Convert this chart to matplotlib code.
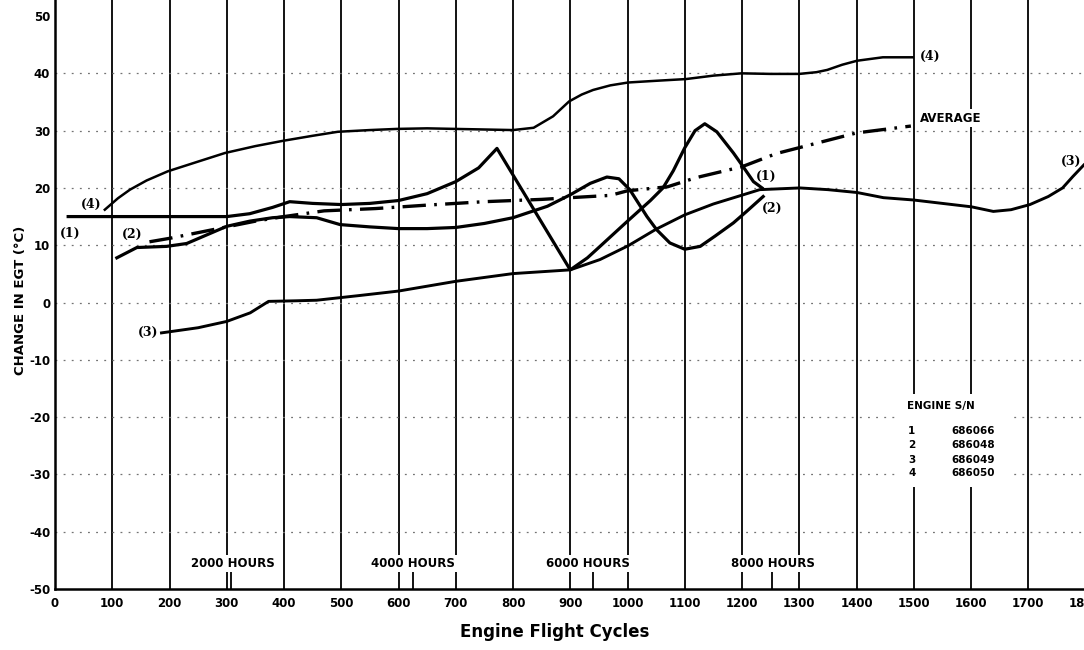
import matplotlib
matplotlib.use("Agg")
import matplotlib.pyplot as plt
from matplotlib.patches import Rectangle

plt.rcParams['font.family'] = ['DejaVu Sans']

# ---------------- data ----------------
x_ticks = list(range(0, 1801, 100))
x_tick_labels = [str(v) for v in x_ticks]
y_ticks = list(range(-50, 51, 10))
y_tick_labels = [str(v) for v in y_ticks]

eng1_x = [23, 100, 200, 300, 340, 380, 410, 450, 500, 550, 600, 650, 700, 740, 772,
          900, 930, 952, 1000, 1040, 1062, 1080, 1100, 1118, 1135, 1156, 1185, 1202, 1220, 1235]
eng1_y = [15, 15, 15, 15, 15.5, 16.6, 17.6, 17.3, 17.1, 17.3, 17.8, 19.0, 21.1, 23.5, 26.9,
          5.7, 7.8, 9.8, 14.2, 17.8, 20.0, 23.0, 27.0, 30.0, 31.2, 29.8, 26.1, 23.7, 21.1, 20.0]

eng2_x = [108, 143, 195, 230, 265, 300, 340, 380, 410, 457, 498, 550, 600, 650, 700, 750, 800,
          860, 900, 935, 964, 985, 1004, 1034, 1051, 1074, 1100, 1127, 1153, 1185, 1208, 1237]
eng2_y = [7.8, 9.6, 9.8, 10.3, 11.8, 13.3, 14.2, 14.8, 15.0, 14.8, 13.6, 13.2, 12.9, 12.9, 13.1,
          13.8, 14.8, 16.8, 18.8, 20.8, 21.9, 21.6, 19.7, 15.0, 12.7, 10.4, 9.3, 9.8, 11.6, 13.9, 15.9, 18.5]

eng3_x = [186, 250, 300, 341, 373, 420, 457, 530, 600, 700, 800, 900, 952, 1001, 1050, 1100,
          1150, 1202, 1231, 1301, 1350, 1401, 1447, 1499, 1550, 1601, 1639, 1670, 1703, 1735,
          1760, 1778, 1797]
eng3_y = [-5.3, -4.4, -3.3, -1.8, 0.2, 0.3, 0.4, 1.2, 2.0, 3.7, 5.05, 5.7, 7.5, 9.9, 12.8, 15.3,
          17.2, 18.8, 19.7, 20.0, 19.7, 19.2, 18.3, 17.9, 17.3, 16.7, 15.9, 16.2, 17.1, 18.5,
          20.0, 22.0, 24.0]

eng4_x = [87, 110, 131, 160, 197, 250, 297, 350, 397, 450, 494, 550, 597, 650, 699, 750, 800,
          836, 870, 898, 920, 940, 970, 1001, 1050, 1102, 1150, 1199, 1250, 1300, 1330, 1349,
          1375, 1401, 1446, 1498]
eng4_y = [16.2, 18.2, 19.7, 21.3, 22.9, 24.6, 26.1, 27.3, 28.2, 29.1, 29.8, 30.1, 30.3, 30.4,
          30.3, 30.2, 30.1, 30.5, 32.5, 35.1, 36.3, 37.1, 37.9, 38.4, 38.7, 39.0, 39.6, 40.0,
          39.9, 39.9, 40.2, 40.6, 41.5, 42.2, 42.8, 42.8]

avg_x = [165, 200, 250, 300, 350, 400, 470, 560, 650, 750, 850, 900, 970, 1000, 1070, 1120,
         1200, 1260, 1330, 1400, 1495]
avg_y = [10.6, 11.2, 12.2, 13.2, 14.2, 15.0, 16.0, 16.4, 17.0, 17.6, 18.0, 18.3, 18.7, 19.5,
         20.2, 21.8, 23.7, 26.0, 27.8, 29.6, 30.8]

hours_labels = ["2000 HOURS", "4000 HOURS", "6000 HOURS", "8000 HOURS"]
hours_cycles = [307, 625, 940, 1252]
hours_text_x = [311, 625, 931, 1254]

legend_title = "ENGINE S/N"
legend_ids = ["1", "2", "3", "4"]
legend_serials = ["686066", "686048", "686049", "686050"]

# ---------------- figure ----------------
fig = plt.figure(figsize=(10.84, 6.5), dpi=100)
ax = fig.add_axes([55 / 1084, 61 / 650, (1085.5 - 55) / 1084, 589 / 650])
ax.set_xlim(0, 1800)
ax.set_ylim(-50, 52.8)

for s in ['top', 'right']:
    ax.spines[s].set_visible(False)
for s in ['left', 'bottom']:
    ax.spines[s].set_linewidth(1.8)
    ax.spines[s].set_color('black')

# grid
for v in x_ticks[1:]:
    ax.axvline(v, color='black', lw=1.3, zorder=1)
for v in range(-40, 50, 10):
    ax.axhline(v, color='0.45', lw=0.9, ls=(0, (1.5, 5)), zorder=1)

ax.set_xticks(x_ticks)
ax.set_xticklabels(x_tick_labels, fontsize=8.5, fontweight='bold')
ax.set_yticks(y_ticks)
ax.set_yticklabels(y_tick_labels, fontsize=8.5, fontweight='bold')
ax.tick_params(axis='x', length=0, pad=6)
ax.tick_params(axis='y', length=0, pad=3.5)

# curves
ax.plot(eng1_x, eng1_y, color='black', lw=2.3, zorder=3, solid_joinstyle='round')
ax.plot(eng2_x, eng2_y, color='black', lw=2.3, zorder=3, solid_joinstyle='round')
ax.plot(eng3_x, eng3_y, color='black', lw=2.1, zorder=3, solid_joinstyle='round')
ax.plot(eng4_x, eng4_y, color='black', lw=1.8, zorder=3, solid_joinstyle='round')
ax.plot(avg_x, avg_y, color='black', lw=2.4, zorder=3, ls=(0, (7, 2.5, 0.8, 2.5)))

# curve labels
lab_kw = dict(fontsize=9, fontweight='bold', family='DejaVu Serif', ha='center', va='center', zorder=5)
ax.text(26, 12.1, "(1)", **lab_kw)
ax.text(63, 17.1, "(4)", **lab_kw)
ax.text(135, 11.8, "(2)", **lab_kw)
ax.text(163, -5.2, "(3)", **lab_kw)
ax.text(1243, 22.0, "(1)", **lab_kw)
ax.text(1252, 16.5, "(2)", **lab_kw)
ax.text(1775, 24.7, "(3)", **lab_kw)
ax.text(1528, 42.9, "(4)", **lab_kw)
ax.text(1511, 32.2, "AVERAGE", fontsize=8.5, fontweight='bold', ha='left', va='center', zorder=5,
        bbox=dict(facecolor='white', edgecolor='none', pad=1.5))

# hours markers
for xc in hours_cycles:
    ax.plot([xc, xc], [-50, -47], color='black', lw=1.3, zorder=2)
for lab, xt in zip(hours_labels, hours_text_x):
    ax.text(xt, -45.5, lab, fontsize=8.5, fontweight='bold', ha='center', va='center', zorder=5,
            bbox=dict(facecolor='white', edgecolor='none', pad=1.5))

# legend block
ax.add_patch(Rectangle((1472, -32.2), 196, 16.2, facecolor='white', edgecolor='none', zorder=2))
ax.text(1488, -18.1, legend_title, fontsize=7.5, fontweight='bold', ha='left', va='center', zorder=5)
row_y = [-22.5, -24.9, -27.4, -29.8]
for i, (nid, ser) in enumerate(zip(legend_ids, legend_serials)):
    ax.text(1490, row_y[i], nid, fontsize=7.5, fontweight='bold', ha='left', va='center', zorder=5)
    ax.text(1565, row_y[i], ser, fontsize=7.5, fontweight='bold', ha='left', va='center', zorder=5)

# axis titles
fig.text(21 / 1084, 1 - 300 / 650, "CHANGE IN EGT (°C)", rotation=90, ha='center', va='center',
         fontsize=9.5, fontweight='bold')
fig.text(555 / 1084, 1 - 632 / 650, "Engine Flight Cycles", ha='center', va='center',
         fontsize=12, fontweight='bold')

fig.savefig("out.png", dpi=100)
